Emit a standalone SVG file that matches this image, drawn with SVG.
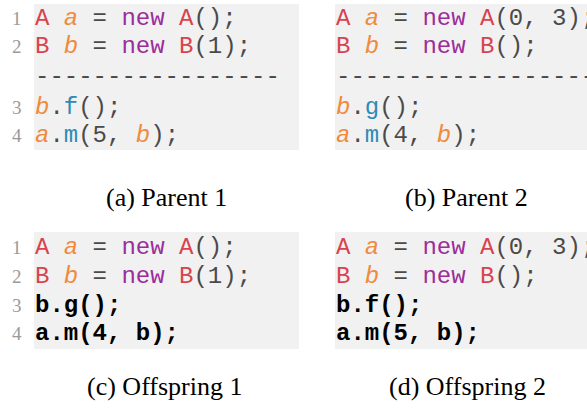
<svg xmlns="http://www.w3.org/2000/svg" width="587" height="409" viewBox="0 0 587 409">
  <style>
    .bg { fill: #f1f1f1; }
    .code { font-family: "Liberation Mono", "Courier New", monospace; font-size: 24px; fill: #4a4a4a; white-space: pre; }
    .ln { font-family: "Liberation Serif", "Times New Roman", serif; font-size: 19px; fill: #9a9a9a; }
    .ty { fill: #d8434e; }
    .kw { fill: #9b2d9b; }
    .var { fill: #f08a3c; font-style: italic; }
    .fn { fill: #2e8bb6; }
    .bold { font-weight: bold; fill: #000; }
    .cap { font-family: "Liberation Serif", "Times New Roman", serif; font-size: 26px; fill: #000; }
  </style>

  <!-- (a) Parent 1 -->
  <g id="parent1">
    <rect class="bg" x="34" y="4" width="265" height="146"/>
    <text class="ln" x="12" y="25">1</text>
    <text class="ln" x="12" y="53">2</text>
    <text class="ln" x="12" y="114">3</text>
    <text class="ln" x="12" y="142">4</text>
    <text class="code" x="35" y="25" xml:space="preserve"><tspan class="ty">A</tspan> <tspan class="var">a</tspan> = <tspan class="kw">new</tspan> <tspan class="ty">A</tspan>();</text>
    <text class="code" x="35" y="53" xml:space="preserve"><tspan class="ty">B</tspan> <tspan class="var">b</tspan> = <tspan class="kw">new</tspan> <tspan class="ty">B</tspan>(1);</text>
    <text class="code" x="35" y="83">-----------------</text>
    <text class="code" x="35" y="114"><tspan class="var">b</tspan>.<tspan class="fn">f</tspan>();</text>
    <text class="code" x="35" y="142" xml:space="preserve"><tspan class="var">a</tspan>.<tspan class="fn">m</tspan>(5, <tspan class="var">b</tspan>);</text>
    <text class="cap" x="106" y="206">(a) Parent 1</text>
  </g>

  <!-- (b) Parent 2: the code runs past the right edge of the figure -->
  <g id="parent2">
    <rect class="bg" x="335" y="4" width="252" height="146"/>
    <text class="code" x="336" y="25" xml:space="preserve"><tspan class="ty">A</tspan> <tspan class="var">a</tspan> = <tspan class="kw">new</tspan> <tspan class="ty">A</tspan>(0, 3);</text>
    <text class="code" x="336" y="53" xml:space="preserve"><tspan class="ty">B</tspan> <tspan class="var">b</tspan> = <tspan class="kw">new</tspan> <tspan class="ty">B</tspan>();</text>
    <text class="code" x="336" y="83">------------------</text>
    <text class="code" x="336" y="114"><tspan class="var">b</tspan>.<tspan class="fn">g</tspan>();</text>
    <text class="code" x="336" y="142" xml:space="preserve"><tspan class="var">a</tspan>.<tspan class="fn">m</tspan>(4, <tspan class="var">b</tspan>);</text>
    <text class="cap" x="405" y="206">(b) Parent 2</text>
  </g>

  <!-- (c) Offspring 1 -->
  <g id="offspring1">
    <rect class="bg" x="34" y="232" width="265" height="117"/>
    <text class="ln" x="12" y="254">1</text>
    <text class="ln" x="12" y="283">2</text>
    <text class="ln" x="12" y="312">3</text>
    <text class="ln" x="12" y="340">4</text>
    <text class="code" x="35" y="254" xml:space="preserve"><tspan class="ty">A</tspan> <tspan class="var">a</tspan> = <tspan class="kw">new</tspan> <tspan class="ty">A</tspan>();</text>
    <text class="code" x="35" y="283" xml:space="preserve"><tspan class="ty">B</tspan> <tspan class="var">b</tspan> = <tspan class="kw">new</tspan> <tspan class="ty">B</tspan>(1);</text>
    <text class="code bold" x="35" y="312">b.g();</text>
    <text class="code bold" x="35" y="340" xml:space="preserve">a.m(4, b);</text>
    <text class="cap" x="87" y="395">(c) Offspring 1</text>
  </g>

  <!-- (d) Offspring 2 -->
  <g id="offspring2">
    <rect class="bg" x="335" y="232" width="252" height="117"/>
    <text class="code" x="336" y="254" xml:space="preserve"><tspan class="ty">A</tspan> <tspan class="var">a</tspan> = <tspan class="kw">new</tspan> <tspan class="ty">A</tspan>(0, 3);</text>
    <text class="code" x="336" y="283" xml:space="preserve"><tspan class="ty">B</tspan> <tspan class="var">b</tspan> = <tspan class="kw">new</tspan> <tspan class="ty">B</tspan>();</text>
    <text class="code bold" x="336" y="312">b.f();</text>
    <text class="code bold" x="336" y="340" xml:space="preserve">a.m(5, b);</text>
    <text class="cap" x="389" y="395">(d) Offspring 2</text>
  </g>

  <!-- no connectors in this figure -->
  <g id="connectors"/>
</svg>
